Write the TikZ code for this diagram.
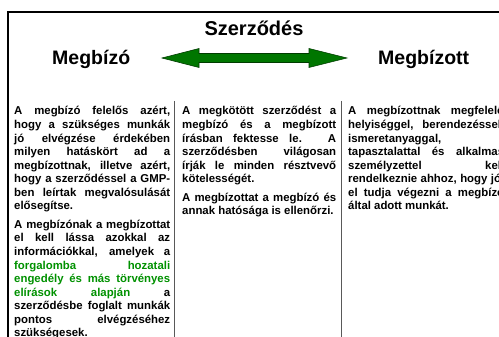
\documentclass[tikz,border=0pt]{standalone}
\usepackage{fontspec}
\setmainfont{Liberation Sans}
\definecolor{txtgreen}{RGB}{0,145,0}
\definecolor{arrowgreen}{RGB}{0,118,0}
\definecolor{arrowedge}{RGB}{0,60,0}
\newcommand\mybodyfont{\fontsize{11.4}{13.55}\selectfont\bfseries\tolerance=10000\hbadness=10000\hyphenpenalty=10000\exhyphenpenalty=10000}
\newcommand\mypargap{\par\vspace{5pt}}
\begin{document}
\begin{tikzpicture}[x=1pt,y=-1pt,
  col/.style={anchor=base west, inner sep=0pt, text width=#1, align=justify, font=\mybodyfont},
  heading/.style={anchor=base, inner sep=0pt, font=\fontsize{19.5}{22}\selectfont\bfseries},
  frameline/.style={line width=2pt, black},
  sepline/.style={line width=1.2pt, black!65}]
\useasboundingbox (0,0) rectangle (499,337);
\clip (0,0) rectangle (499,337);
% frame
\draw[frameline] (8,345) -- (8,12) -- (510,12);
% column separators
\draw[sepline] (174.5,101) -- (174.5,345);
\draw[sepline] (341.5,101) -- (341.5,345);
% headings
\node[heading, font=\fontsize{20}{22}\selectfont\bfseries] (title) at (254,35.5) {Szerződés};
\node[heading, anchor=base west] (left) at (52,65) {Megbízó};
\node[heading, anchor=base west] (right) at (378,65) {Megbízott};
% double arrow
\filldraw[fill=arrowgreen, draw=arrowedge, line width=0.6pt]
  (162,58) -- (199,48.5) -- (199,53.5) -- (309,53.5) -- (309,48.5) -- (347,58)
  -- (309,67.5) -- (309,62.5) -- (199,62.5) -- (199,67.5) -- cycle;
% column 1
\node[col=156pt] (c1) at (14,115) {%
A megbízó felelős azért,\linebreak
hogy a szükséges munkák\linebreak
jó elvégzése érdekében\linebreak
milyen hatáskört ad a\linebreak
megbízottnak, illetve azért,\linebreak
hogy a szerződéssel a GMP-\linebreak
ben leírtak megvalósulását\linebreak
elősegítse.\mypargap
A megbízónak a megbízottat\linebreak
el kell lássa azokkal az\linebreak
információkkal, amelyek a\linebreak
\textcolor{txtgreen}{forgalomba hozatali}\linebreak
\textcolor{txtgreen}{engedély és más törvényes}\linebreak
\textcolor{txtgreen}{elírások alapján} a\linebreak
szerződésbe foglalt munkák\linebreak
pontos elvégzéséhez\linebreak
szükségesek.};
% column 2
\node[col=154pt] (c2) at (182,115) {%
A megkötött szerződést a\linebreak
megbízó és a megbízott\linebreak
írásban fektesse le. A\linebreak
szerződésben világosan\linebreak
írják le minden résztvevő\linebreak
kötelességét.\mypargap
A megbízottat a megbízó és\linebreak
annak hatósága is ellenőrzi.};
% column 3
\node[col=156pt] (c3) at (348,115) {%
A megbízottnak megfelelő\linebreak
helyiséggel, berendezéssel,\linebreak
ismeretanyaggal,\newline
tapasztalattal és alkalmas\linebreak
személyzettel kell\linebreak
rendelkeznie ahhoz, hogy jól\linebreak
el tudja végezni a megbízó\linebreak
által adott munkát.};
\end{tikzpicture}
\end{document}
